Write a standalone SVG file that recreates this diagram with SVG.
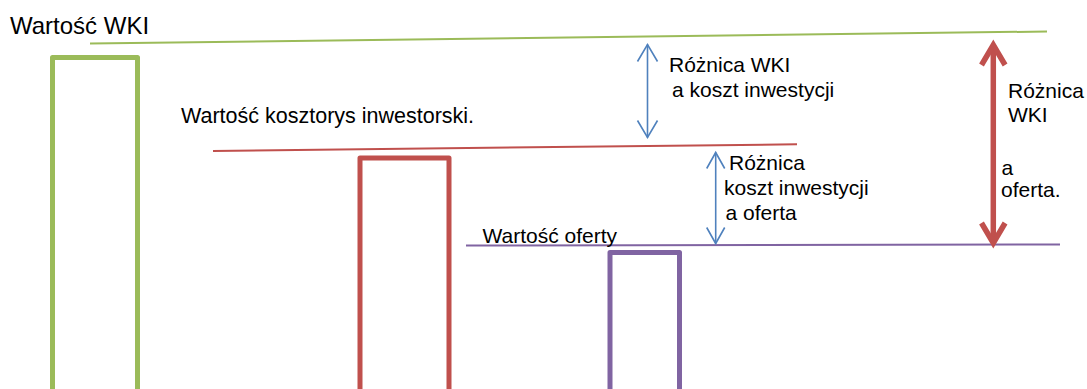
<svg xmlns="http://www.w3.org/2000/svg" width="1087" height="389" viewBox="0 0 1087 389">
<style>
text{font-family:"Liberation Sans",Arial,sans-serif;font-size:21px;fill:#000}
.bar{fill:none;stroke-width:5;stroke-linejoin:round}
.lvl{stroke-width:2;fill:none}
.blue{stroke:#4F81BD;stroke-width:1.6;fill:none}
.redarr{stroke:#C0504D;stroke-width:5.5;fill:none;stroke-linejoin:miter}
</style>
<rect width="1087" height="389" fill="#fff"/>
<g id="bar-wki"><rect class="bar" x="52.5" y="57.5" width="85" height="340" stroke="#9BBB59"/></g>
<g id="bar-kosztorys"><rect class="bar" x="360" y="158" width="89" height="240" stroke="#C0504D"/></g>
<g id="bar-oferta"><rect class="bar" x="610" y="252.5" width="69.5" height="150" stroke="#8064A2"/></g>
<g id="line-wki"><line class="lvl" x1="90" y1="43.5" x2="1047" y2="31.5" stroke="#9BBB59"/></g>
<g id="line-kosztorys"><line class="lvl" x1="213" y1="151" x2="797" y2="144.3" stroke="#C0504D"/></g>
<g id="line-oferta"><line class="lvl" x1="466" y1="245.5" x2="1060" y2="244.5" stroke="#8064A2" stroke-width="1.6"/></g>
<g id="labels">
<text x="10" y="34" style="font-size:24px">Wartość WKI</text>
<text x="181" y="122.5" style="font-size:21.5px">Wartość kosztorys inwestorski.</text>
<text x="482.5" y="243">Wartość oferty</text>
<text x="669" y="72.3">Różnica WKI</text>
<text x="672" y="97.3">a koszt inwestycji</text>
<text x="729" y="170">Różnica</text>
<text x="724" y="195">koszt inwestycji</text>
<text x="725.5" y="219.5">a oferta</text>
<text x="1008" y="97.5">Różnica</text>
<text x="1008" y="121.5">WKI</text>
<text x="1001.5" y="175">a</text>
<text x="1001" y="197">oferta.</text>
</g>
<g id="connectors">
<line class="blue" x1="647.5" y1="44.5" x2="647.5" y2="137.5"/>
<polyline class="blue" points="637.5,61.5 647.5,44.5 657.5,61.5"/>
<polyline class="blue" points="637.5,120.5 647.5,137.5 657.5,120.5"/>
<line class="blue" x1="715.7" y1="152.5" x2="715.7" y2="243.5"/>
<polyline class="blue" points="706.7,168.5 715.7,152.5 724.7,168.5"/>
<polyline class="blue" points="706.7,227.5 715.7,243.5 724.7,227.5"/>
<line class="redarr" x1="993.3" y1="46" x2="993.3" y2="242"/>
<polyline class="redarr" points="981.5,65 993.3,45 1005.1,65"/>
<polyline class="redarr" points="981.5,223 993.3,243 1005.1,223"/>
</g>
</svg>
